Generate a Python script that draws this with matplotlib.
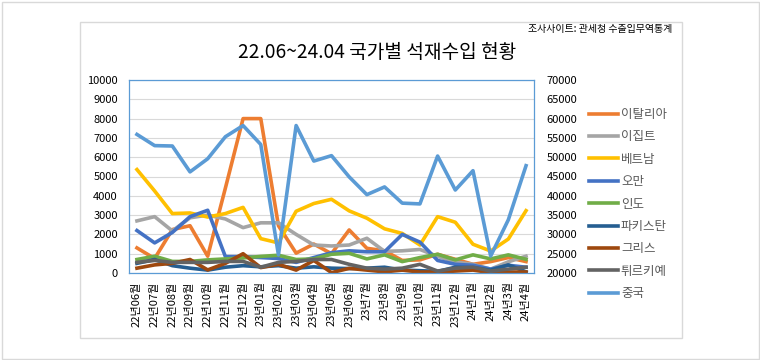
import numpy as np
import matplotlib
matplotlib.use("Agg")
import matplotlib.pyplot as plt
from matplotlib.patches import Rectangle

plt.rcParams['font.family'] = ['Noto Sans CJK KR', 'DejaVu Sans']

# --- data ---
months = ['22년06월', '22년07월', '22년08월', '22년09월', '22년10월', '22년11월', '22년12월',
          '23년01월', '23년02월', '23년03월', '23년04월', '23년05월', '23년06월', '23년7월',
          '23년8월', '23년9월', '23년10월', '23년11월', '23년12월', '24년1월', '24년2월',
          '24년3월', '24년4월']

italy = [1300, 750, 2250, 2450, 870, 4400, 8000, 8000, 2450, 1030, 1500, 1000, 2230, 1280,
         1150, 650, 680, 970, 710, 450, 590, 800, 590]
egypt = [2700, 2920, 2180, 2860, 3000, 2800, 2350, 2600, 2600, 2000, 1450, 1400, 1450, 1800,
         1120, 1150, 1220, 860, 570, 450, 200, 580, 870]
vietnam = [5360, 4250, 3080, 3110, 2900, 3080, 3400, 1780, 1560, 3200, 3600, 3820, 3220, 2840,
           2290, 2050, 1450, 2920, 2630, 1490, 1140, 1760, 3230]
oman = [2200, 1560, 2100, 2920, 3250, 850, 850, 800, 750, 550, 800, 1050, 1150, 1100,
        1100, 2000, 1600, 650, 450, 400, 200, 400, 300]
india = [700, 870, 600, 600, 680, 730, 780, 860, 920, 700, 730, 970, 1020, 730,
         940, 590, 800, 970, 680, 940, 730, 940, 710]
pakistan = [500, 700, 380, 250, 150, 300, 380, 320, 380, 250, 320, 250, 230, 250,
            300, 150, 120, 80, 300, 280, 150, 420, 60]
greece = [250, 420, 500, 700, 160, 500, 1000, 280, 450, 150, 650, 20, 240, 150,
          60, 150, 50, 50, 100, 150, 20, 50, 50]
turkey = [550, 650, 550, 550, 550, 600, 600, 300, 550, 600, 700, 700, 450, 250,
          200, 250, 450, 100, 250, 300, 100, 200, 300]
china = [55900, 53000, 52900, 46200, 49600, 55300, 58200, 53300, 24700, 58200, 49000, 50400,
         44900, 40300, 42300, 38100, 37900, 50300, 41500, 46500, 24400, 33800, 47800]

series = [('이탈리아', italy, '#ED7D31'),
          ('이집트', egypt, '#A5A5A5'),
          ('베트남', vietnam, '#FFC000'),
          ('오만', oman, '#4472C4'),
          ('인도', india, '#70AD47'),
          ('파키스탄', pakistan, '#255E91'),
          ('그리스', greece, '#9E480E'),
          ('튀르키예', turkey, '#636363')]

W, H = 760, 360
fig = plt.figure(figsize=(W / 100, H / 100), dpi=100)

# chart area frames
fig.add_artist(Rectangle((1.5 / W, 1.5 / H), (W - 3) / W, (H - 3) / H, transform=fig.transFigure,
                         fill=False, edgecolor='#D9D9D9', lw=1))
fig.add_artist(Rectangle((80 / W, 1 - 338 / H), (682 - 80) / W, (338 - 22) / H,
                         transform=fig.transFigure, fill=False, edgecolor='#D9D9D9', lw=1))

ax = fig.add_axes([129 / W, 1 - 273 / H, (534 - 129) / W, (273 - 80) / H])
x = np.arange(len(months))

handles = []
for name, vals, col in series:
    h, = ax.plot(x, vals, color=col, lw=2.6, label=name, solid_joinstyle='round')
    handles.append(h)

ax.set_ylim(0, 10000)
ax.set_yticks(np.arange(0, 10001, 1000))
ax.set_xlim(-0.45, len(months) - 0.55)
ax.set_xticks(x)
ax.set_xticklabels(months, rotation=90, va='top', ha='center', fontsize=8)
ax.yaxis.grid(True, color='#D9D9D9', lw=0.8)
ax.set_axisbelow(True)
ax.tick_params(axis='both', length=0, labelsize=8, colors='#000000')
ax.tick_params(axis='y', pad=8)
ax.tick_params(axis='x', pad=6)
for s in ax.spines.values():
    s.set_color('#5B9BD5')
    s.set_linewidth(0.9)

ax2 = ax.twinx()
h, = ax2.plot(x, china, color='#5B9BD5', lw=2.6, label='중국', solid_joinstyle='round')
handles.append(h)
ax2.set_ylim(20000, 70000)
ax2.set_yticks(np.arange(20000, 70001, 5000))
ax2.tick_params(axis='y', length=0, labelsize=8, pad=9)
for s in ax2.spines.values():
    s.set_visible(False)

fig.legend(handles=handles, labels=[hh.get_label() for hh in handles],
           loc='upper left', bbox_to_anchor=(589 / W, 1 - 108 / H),
           frameon=False, fontsize=9, handlelength=2.3, handletextpad=0.25,
           labelspacing=0.75, borderpad=0, borderaxespad=0, labelcolor='#595959')

fig.text(377 / W, 1 - 52 / H, '22.06~24.04 국가별 석재수입 현황', ha='center', va='center',
         fontsize=13.8)
fig.text(672 / W, 1 - 29 / H, '조사사이트: 관세청 수출입무역통계', ha='right', va='center',
         fontsize=7.2)

fig.savefig('out.png', dpi=100)
